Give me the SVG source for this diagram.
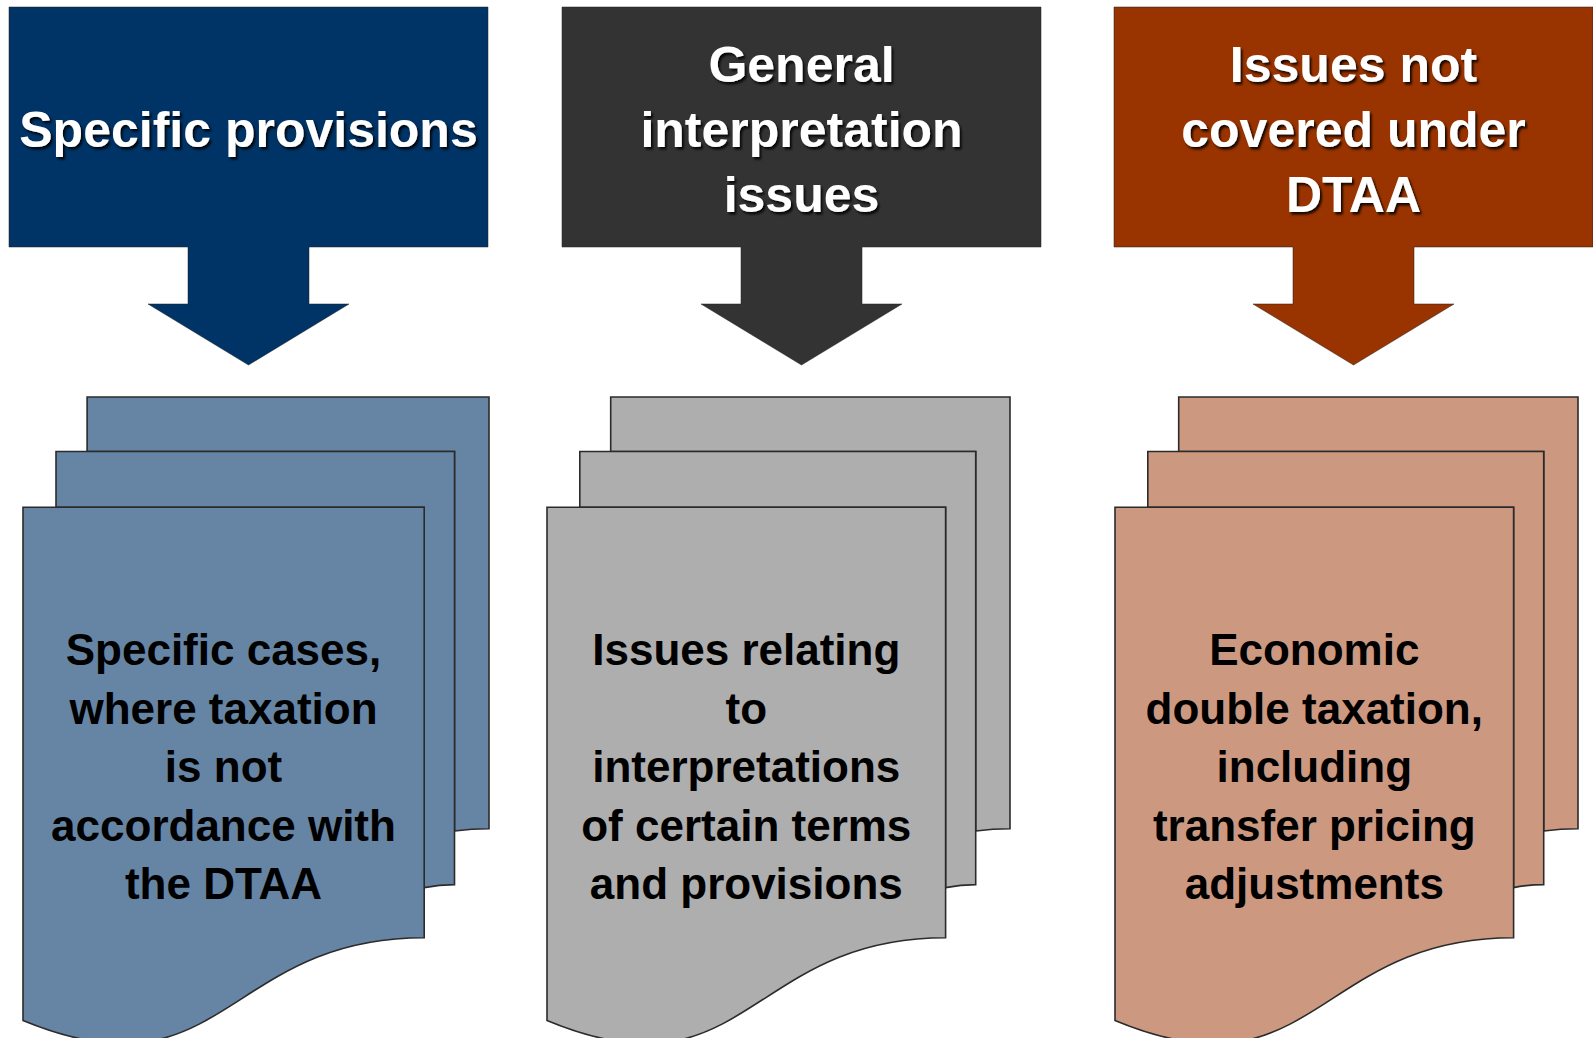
<svg xmlns="http://www.w3.org/2000/svg" width="1593" height="1038" viewBox="0 0 1593 1038">
  <defs>
    <filter id="tshadow" x="-10%" y="-30%" width="120%" height="160%">
      <feDropShadow dx="2" dy="2.5" stdDeviation="1" flood-color="#000" flood-opacity="0.85"/>
    </filter>
    <style>
      .callout { stroke: #222; stroke-opacity: 0.5; stroke-width: 1; }
      .sheet { stroke: #2b2b2b; stroke-width: 1.6; stroke-linejoin: miter; }
      .head { font-family: "Liberation Sans", Arial, sans-serif; font-weight: bold; font-size: 50px; fill: #ffffff; text-anchor: middle; filter: url(#tshadow); }
      .body { font-family: "Liberation Sans", Arial, sans-serif; font-weight: bold; font-size: 44px; fill: #000000; text-anchor: middle; }
      .blue1 { fill: #003366; }
      .dark1 { fill: #333333; }
      .brown1 { fill: #993300; }
      .blue2 { fill: #6685A4; }
      .gray2 { fill: #AEAEAE; }
      .brown2 { fill: #CC9980; }
    </style>
  </defs>
  <rect width="1593" height="1038" fill="#ffffff"/>

  <g id="connectors"></g>

  <g id="callout-specific">
    <path class="callout blue1" d="M9,7 H488 V247 H309 V304 H349 L248.5,365 L148,304 H188 V247 H9 Z"/>
    <text class="head" x="248.5" y="147">Specific provisions</text>
  </g>

  <g id="callout-general">
    <path class="callout dark1" d="M562,7 H1041 V247 H862 V304 H902 L801.5,365 L701,304 H741 V247 H562 Z"/>
    <text class="head" x="801.5" y="82">General</text>
    <text class="head" x="801.5" y="147">interpretation</text>
    <text class="head" x="801.5" y="212">issues</text>
  </g>

  <g id="callout-notcovered">
    <path class="callout brown1" d="M1114,7 H1593 V247 H1414 V304 H1454 L1353.5,365 L1253,304 H1293 V247 H1114 Z"/>
    <text class="head" x="1353.5" y="82">Issues not</text>
    <text class="head" x="1353.5" y="147">covered under</text>
    <text class="head" x="1353.5" y="212">DTAA</text>
  </g>

  <g id="docs-specific">
    <path class="sheet blue2" d="M87.1,397 H489 V828.8 C471.7,828.8 454.5,831 454.5,831 V451.5 H87.1 Z"/>
    <path class="sheet blue2" d="M56,451.5 H454.5 V884.6 C439.3,884.6 424.2,887.6 424.2,887.6 V507.3 H56 Z"/>
    <path class="sheet blue2" d="M23,507.3 H424.2 V937.7 C223.6,937.7 223.6,1103.3 23,1020.5 Z"/>
    <text class="body" x="223.5" y="665">Specific cases,</text>
    <text class="body" x="223.5" y="723.5">where taxation</text>
    <text class="body" x="223.5" y="782">is not</text>
    <text class="body" x="223.5" y="840.5">accordance with</text>
    <text class="body" x="223.5" y="899">the DTAA</text>
  </g>

  <g id="docs-general">
    <path class="sheet gray2" d="M610.7,397 H1010 V828.8 C992.9,828.8 975.7,831 975.7,831 V451.5 H610.7 Z"/>
    <path class="sheet gray2" d="M579.8,451.5 H975.7 V884.6 C960.7,884.6 945.6,887.6 945.6,887.6 V507.3 H579.8 Z"/>
    <path class="sheet gray2" d="M547,507.3 H945.6 V937.7 C746.3,937.7 746.3,1103.3 547,1020.5 Z"/>
    <text class="body" x="746.3" y="665">Issues relating</text>
    <text class="body" x="746.3" y="723.5">to</text>
    <text class="body" x="746.3" y="782">interpretations</text>
    <text class="body" x="746.3" y="840.5">of certain terms</text>
    <text class="body" x="746.3" y="899">and provisions</text>
  </g>

  <g id="docs-notcovered">
    <path class="sheet brown2" d="M1178.7,397 H1578 V828.8 C1560.9,828.8 1543.7,831 1543.7,831 V451.5 H1178.7 Z"/>
    <path class="sheet brown2" d="M1147.8,451.5 H1543.7 V884.6 C1528.7,884.6 1513.6,887.6 1513.6,887.6 V507.3 H1147.8 Z"/>
    <path class="sheet brown2" d="M1115,507.3 H1513.6 V937.7 C1314.3,937.7 1314.3,1103.3 1115,1020.5 Z"/>
    <text class="body" x="1314.3" y="665">Economic</text>
    <text class="body" x="1314.3" y="723.5">double taxation,</text>
    <text class="body" x="1314.3" y="782">including</text>
    <text class="body" x="1314.3" y="840.5">transfer pricing</text>
    <text class="body" x="1314.3" y="899">adjustments</text>
  </g>
</svg>
